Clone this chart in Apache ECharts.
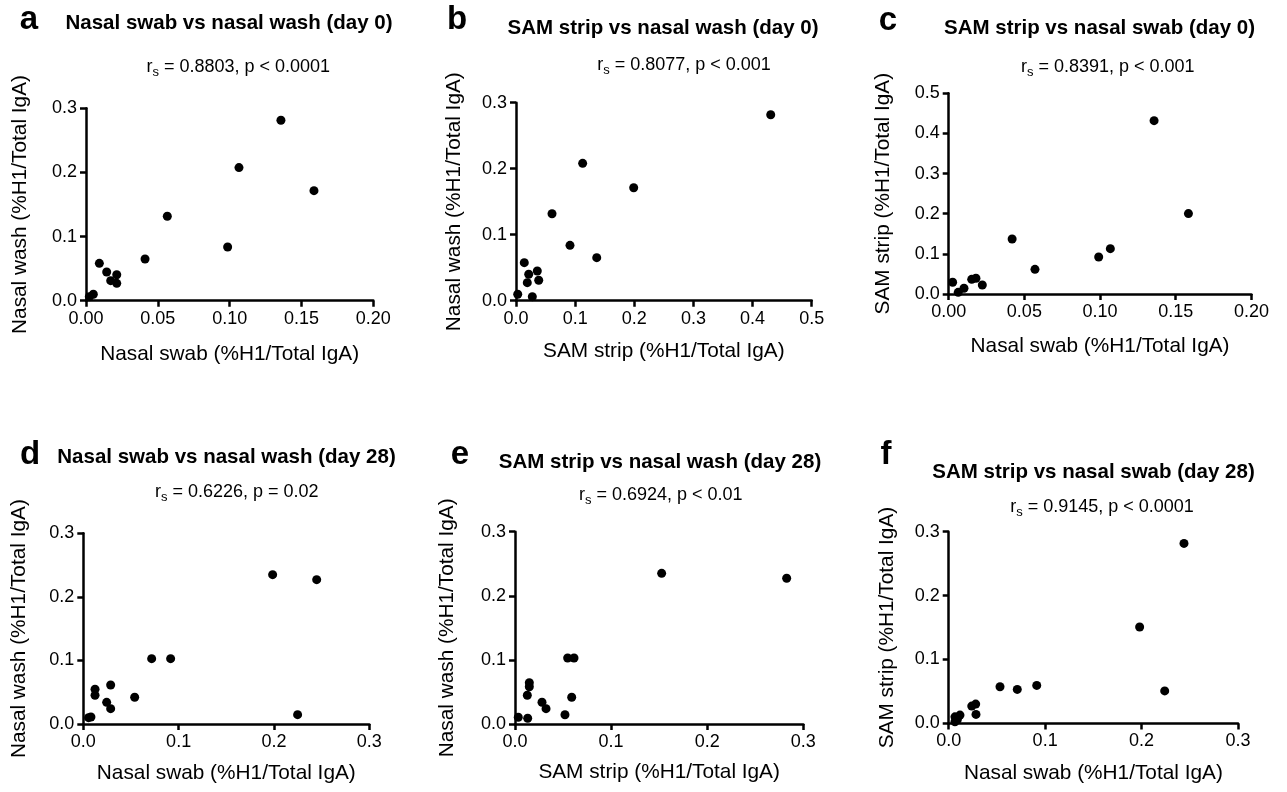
<!DOCTYPE html>
<html><head><meta charset="utf-8">
<script src="https://cdn.jsdelivr.net/npm/echarts@6/dist/echarts.min.js"></script>
<style>html,body{margin:0;padding:0;background:#fff}#c{width:1287px;height:792px}</style>
</head><body><div id="c"></div>
<script>
// ---- data ----
const aSwab = [0.1357, 0.1065, 0.1587, 0.0566, 0.0986, 0.0411, 0.0093, 0.0144, 0.0214, 0.0172, 0.0214, 0.0051, 0.0023];
const aWash = [0.2813, 0.2075, 0.1716, 0.1316, 0.0837, 0.0650, 0.0583, 0.0448, 0.0405, 0.0312, 0.0271, 0.0100, 0.0062];

const bStrip = [0.4307, 0.1127, 0.1990, 0.0609, 0.0913, 0.1365, 0.0140, 0.0215, 0.0360, 0.0191, 0.0384, 0.0029, 0.0276];
const bWash  = [0.2818, 0.2081, 0.1712, 0.1318, 0.0839, 0.0652, 0.0576, 0.0400, 0.0450, 0.0273, 0.0309, 0.0097, 0.0061];

const cSwab  = [0.1357, 0.1584, 0.0419, 0.1068, 0.0991, 0.0570, 0.0026, 0.0152, 0.0180, 0.0101, 0.0222, 0.0063];
const cStrip = [0.4319, 0.2003, 0.1370, 0.1130, 0.0922, 0.0615, 0.0292, 0.0366, 0.0391, 0.0142, 0.0224, 0.0042];

const dSwab = [0.1986, 0.2448, 0.2248, 0.0717, 0.0916, 0.0539, 0.0287, 0.0123, 0.0123, 0.0245, 0.0287, 0.0055, 0.0080];
const dWash = [0.2349, 0.2271, 0.0147, 0.1028, 0.1028, 0.0420, 0.0614, 0.0546, 0.0452, 0.0341, 0.0241, 0.0100, 0.0110];

const eStrip = [0.1526, 0.2827, 0.0548, 0.0614, 0.0590, 0.0149, 0.0149, 0.0128, 0.0281, 0.0323, 0.0520, 0.0034, 0.0132];
const eWash  = [0.2350, 0.2273, 0.1030, 0.1030, 0.0417, 0.0644, 0.0582, 0.0448, 0.0339, 0.0239, 0.0145, 0.0105, 0.0089];

const fSwab  = [0.2440, 0.1980, 0.2240, 0.0913, 0.0711, 0.0532, 0.0280, 0.0239, 0.0283, 0.0117, 0.0065, 0.0065, 0.0090];
const fStrip = [0.2817, 0.1508, 0.0508, 0.0595, 0.0532, 0.0573, 0.0302, 0.0271, 0.0141, 0.0130, 0.0103, 0.0025, 0.0060];

const letters  = ['a', 'b', 'c', 'd', 'e', 'f'];
const titles   = ['Nasal swab vs nasal wash (day 0)', 'SAM strip vs nasal wash (day 0)', 'SAM strip vs nasal swab (day 0)',
                  'Nasal swab vs nasal wash (day 28)', 'SAM strip vs nasal wash (day 28)', 'SAM strip vs nasal swab (day 28)'];
const stats    = ['= 0.8803, p < 0.0001', '= 0.8077, p < 0.001', '= 0.8391, p < 0.001',
                  '= 0.6226, p = 0.02', '= 0.6924, p < 0.01', '= 0.9145, p < 0.0001'];
const xNames   = ['Nasal swab (%H1/Total IgA)', 'SAM strip (%H1/Total IgA)', 'Nasal swab (%H1/Total IgA)',
                  'Nasal swab (%H1/Total IgA)', 'SAM strip (%H1/Total IgA)', 'Nasal swab (%H1/Total IgA)'];
const yNames   = ['Nasal wash (%H1/Total IgA)', 'Nasal wash (%H1/Total IgA)', 'SAM strip (%H1/Total IgA)',
                  'Nasal wash (%H1/Total IgA)', 'Nasal wash (%H1/Total IgA)', 'SAM strip (%H1/Total IgA)'];
const xMax      = [0.2, 0.5, 0.2, 0.3, 0.3, 0.3];
const xInterval = [0.05, 0.1, 0.05, 0.1, 0.1, 0.1];
const xDecimals = [2, 1, 2, 1, 1, 1];
const yMax      = [0.3, 0.3, 0.5, 0.3, 0.3, 0.3];
const yInterval = [0.1, 0.1, 0.1, 0.1, 0.1, 0.1];

const xs = [aSwab, bStrip, cSwab, dSwab, eStrip, fSwab];
const ys = [aWash, bWash, cStrip, dWash, eWash, fStrip];

// ---- layout (pixels) ----
const grids = [
  {left: 86,    top: 108.3, width: 287.3, height: 192.4},
  {left: 516,   top: 102.7, width: 295.7, height: 198},
  {left: 948.7, top: 93.3,  width: 302.7, height: 200.7},
  {left: 83.3,  top: 533.3, width: 286,   height: 190.7},
  {left: 515,   top: 531.7, width: 288.3, height: 192.3},
  {left: 948.7, top: 531.7, width: 289.3, height: 191.7}
];
const letterPos = [[29, 20], [457, 20], [888, 21], [30, 455], [460, 455], [886, 455]];
const titlePos  = [[229, 23.8], [663, 28.3], [1099.5, 28.7], [226.5, 457.5], [660, 462.5], [1093.5, 472.3]];
const statPos   = [[238.3, 66.7], [684, 65], [1107.8, 66.7], [236.7, 491.7], [660.8, 495], [1102, 506.7]];
const xNameGap  = [43, 39.7, 41.4, 39, 38, 39.7];
const yNameGap  = [55.5, 51.5, 55.3, 53.8, 57, 51.3];

const FONT = '"Liberation Sans", Arial, Helvetica, sans-serif';
const AXW = 2.5;

const option = {
  backgroundColor: '#fff',
  animation: false,
  title: [],
  grid: [], xAxis: [], yAxis: [], series: []
};

for (let i = 0; i < 6; i++) {
  option.title.push({
    text: letters[i], left: letterPos[i][0], top: letterPos[i][1], padding: 0,
    textAlign: 'center', textVerticalAlign: 'middle',
    textStyle: {fontFamily: FONT, fontSize: 33, fontWeight: 'bold', color: '#000'}
  });
  option.title.push({
    text: titles[i], left: titlePos[i][0], top: titlePos[i][1], padding: 0,
    textAlign: 'center', textVerticalAlign: 'middle',
    textStyle: {fontFamily: FONT, fontSize: 20.5, fontWeight: 'bold', color: '#000'}
  });
  option.title.push({
    text: '{n|r}{s|s}{n| ' + stats[i] + '}', left: statPos[i][0], top: statPos[i][1], padding: 0,
    textAlign: 'center', textVerticalAlign: 'middle',
    textStyle: {
      fontFamily: FONT, fontSize: 18, fontWeight: 'normal', color: '#000',
      rich: {
        n: {fontFamily: FONT, fontSize: 18, color: '#000', lineHeight: 24},
        s: {fontFamily: FONT, fontSize: 13, color: '#000', lineHeight: 13, verticalAlign: 'bottom'}
      }
    }
  });
  option.grid.push(Object.assign({containLabel: false}, grids[i]));
  const dec = xDecimals[i];
  option.xAxis.push({
    type: 'value', gridIndex: i, min: 0, max: xMax[i], interval: xInterval[i],
    name: xNames[i], nameLocation: 'middle', nameGap: xNameGap[i],
    nameTextStyle: {fontFamily: FONT, fontSize: 20.8, color: '#000'},
    axisLine: {show: true, onZero: false, lineStyle: {color: '#000', width: AXW}},
    axisTick: {show: true, length: 6, lineStyle: {color: '#000', width: AXW}},
    axisLabel: {color: '#000', fontFamily: FONT, fontSize: 18, margin: 9,
      formatter: v => v.toFixed(dec)},
    splitLine: {show: false}
  });
  option.yAxis.push({
    type: 'value', gridIndex: i, min: 0, max: yMax[i], interval: yInterval[i],
    name: yNames[i], nameLocation: 'middle', nameGap: yNameGap[i],
    nameTextStyle: {fontFamily: FONT, fontSize: 20.8, color: '#000'},
    axisLine: {show: true, onZero: false, lineStyle: {color: '#000', width: AXW}},
    axisTick: {show: true, length: 6, lineStyle: {color: '#000', width: AXW}},
    axisLabel: {color: '#000', fontFamily: FONT, fontSize: 18, margin: 9,
      formatter: v => v.toFixed(1)},
    splitLine: {show: false}
  });
  option.series.push({
    type: 'scatter', xAxisIndex: i, yAxisIndex: i, clip: false,
    symbol: 'circle', symbolSize: 9,
    itemStyle: {color: '#000', opacity: 1},
    emphasis: {disabled: true},
    data: xs[i].map((x, k) => [x, ys[i][k]])
  });
}

const chart = echarts.init(document.getElementById('c'), null, {renderer: 'canvas'});
chart.setOption(option);
</script>
</body></html>
